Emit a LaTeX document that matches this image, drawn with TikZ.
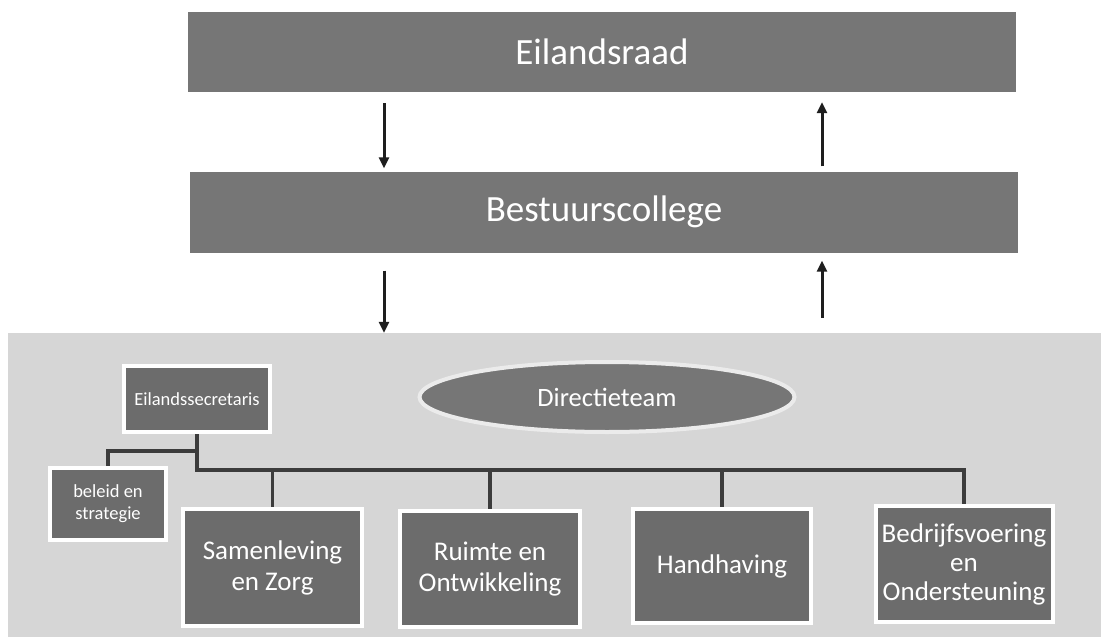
\documentclass[tikz,border=0pt]{standalone}
\usepackage{fontspec}
\setmainfont{Carlito}
\usetikzlibrary{arrows.meta,shapes.geometric}
\definecolor{topgray}{HTML}{767676}
\definecolor{boxgray}{HTML}{6C6C6C}
\definecolor{panelgray}{HTML}{D6D6D6}
\definecolor{linegray}{HTML}{3C3C3C}
\definecolor{arrowblack}{HTML}{1E1E1E}
\begin{document}
\begin{tikzpicture}[x=1pt,y=-1pt,
  topbox/.style={rectangle,fill=topgray,draw=none,inner sep=0pt,text=white,
    font=\fontsize{37}{44}\selectfont},
  unitbox/.style={rectangle,fill=boxgray,draw=white,line width=4pt,inner sep=0pt,
    text=white,align=center,font=\fontsize{27}{31}\selectfont},
  smallbox/.style={unitbox,font=\fontsize{18.5}{22}\selectfont},
  panelbox/.style={rectangle,fill=panelgray,draw=none,inner sep=0pt},
  ovalbox/.style={ellipse,fill=topgray,draw=white!92!black,line width=4pt,inner sep=0pt,
    text=white,font=\fontsize{26.5}{30}\selectfont},
  conn/.style={draw=linegray,line width=3.5pt},
  arr/.style={draw=arrowblack,line width=3pt,-{Triangle[length=11pt,width=10pt]}}
]
\useasboundingbox (0,0) rectangle (1101,637);
\fill[white] (0,0) rectangle (1101,637);

% top boxes
\node[topbox,minimum width=828pt,minimum height=80pt] (eil) at (602,52) {Eilandsraad};
\node[topbox,minimum width=828pt,minimum height=81pt] (bes) at (604,212) {Bestuurscollege};

% panel
\node[panelbox,minimum width=1093pt,minimum height=304pt] (panel) at (554.5,485) {};

% arrow positions
\coordinate (xl) at (384,0);
\coordinate (xr) at (822,0);
\draw[arr,shorten <=11pt,shorten >=3pt] (eil.south -| xl) -- (bes.north -| xl);
\draw[arr,shorten <=5pt,shorten >=10pt] (bes.north -| xr) -- (eil.south -| xr);
\draw[arr,shorten <=18pt] (bes.south -| xl) -- (panel.north -| xl);
\draw[arr,shorten <=15pt,shorten >=8pt] (panel.north -| xr) -- (bes.south -| xr);

% organisation
\node[ovalbox,minimum width=375pt,minimum height=70pt] (dir) at (607,397) {Directieteam};
\node[smallbox,minimum width=146pt,minimum height=66pt] (sec) at (197,399) {Eilandssecretaris};
\node[smallbox,minimum width=116pt,minimum height=72pt] (bel) at (108,504) {beleid en\\strategie};
\node[unitbox,minimum width=179pt,minimum height=117pt] (sam) at (272.5,567.5) {Samenleving\\en Zorg};
\node[unitbox,minimum width=180pt,minimum height=116pt] (rui) at (490,569) {Ruimte en\\Ontwikkeling};
\node[unitbox,minimum width=178pt,minimum height=114pt] (han) at (722,566) {Handhaving};
\node[unitbox,minimum width=177pt,minimum height=116pt,
  font=\fontsize{27}{29}\selectfont] (bed) at (964,564) {Bedrijfsvoering\\en\\Ondersteuning};

\coordinate (bus) at (0,470);
\coordinate (br) at (0,451);
\draw[conn] (sec.south) -- (sec.south |- bus) -| (bed.north);
\draw[conn] (sec.south |- br) -| (bel.north);
\draw[conn] (sam.north |- bus) -- (sam.north);
\draw[conn] (rui.north |- bus) -- (rui.north);
\draw[conn] (han.north |- bus) -- (han.north);
\end{tikzpicture}
\end{document}
